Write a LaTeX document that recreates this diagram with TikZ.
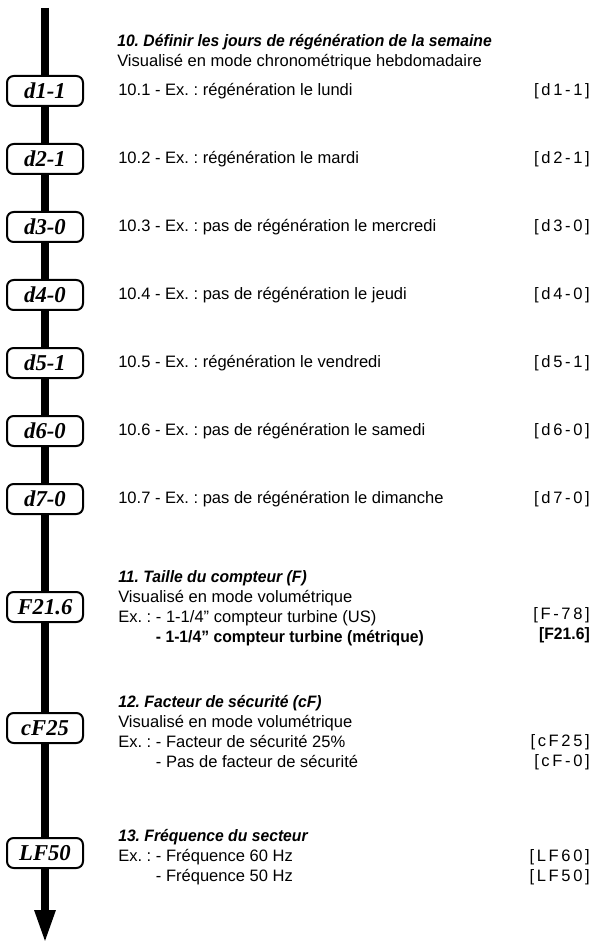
\documentclass[tikz,border=0pt]{standalone}
\usepackage{fontspec}
\setmainfont{Liberation Sans}
\newfontfamily\headfont[FakeStretch=0.95,Ligatures=TeX]{Liberation Sans}
\newfontfamily\boxfont{Liberation Serif}
\newfontfamily\codefont[LetterSpace=16]{Liberation Sans}
\usetikzlibrary{positioning}
\usetikzlibrary{arrows.meta}
\frenchspacing

\newcommand{\sectitle}[1]{{\headfont\bfseries\itshape #1}}
\newcommand{\boldline}[1]{{\headfont\bfseries #1}}

\tikzset{
  menu/.style={draw,line width=1.5pt,rounded corners=5pt,fill=white,
    minimum width=57pt,minimum height=22.5pt,inner sep=0pt,
    font=\boxfont\bfseries\itshape\fontsize{17}{18}\selectfont},
  txt/.style={inner sep=0pt,align=left,anchor=west,
    font=\fontsize{12.4}{15}\selectfont},
  code/.style={inner sep=0pt,align=right,anchor=east,
    font=\codefont\fontsize{12.4}{15}\selectfont},
  spine/.style={line width=5.6pt}
}

\begin{document}
\begin{tikzpicture}[x=0.75pt,y=-0.75pt,node distance=27pt]
\useasboundingbox (0,0) rectangle (594,944);
\coordinate (top) at (45,8);
\coordinate (bot) at (45,943);
\coordinate (R) at (590,0);

% day by day
\node[menu] (d1) at (45,91) {d1-1};
\node[menu,below=of d1] (d2) {d2-1};
\node[menu,below=of d2] (d3) {d3-0};
\node[menu,below=of d3] (d4) {d4-0};
\node[menu,below=of d4] (d5) {d5-1};
\node[menu,below=of d5] (d6) {d6-0};
\node[menu,below=of d6] (d7) {d7-0};
\node[menu] (F) at (45,607) {F21.6};
\node[menu] (cF) at (45,728) {cF25};
\node[menu] (LF) at (45,853) {LF50};

\node[txt] (h10) at (117,52) {\sectitle{10. Définir les jours de régénération de la semaine}\\
  Visualisé en mode chronométrique hebdomadaire};
\node[txt,right=25.5pt of d1] (l1) {10.1 - Ex. : régénération le lundi};
\node[txt,right=25.5pt of d2] (l2) {10.2 - Ex. : régénération le mardi};
\node[txt,right=25.5pt of d3] (l3) {10.3 - Ex. : pas de régénération le mercredi};
\node[txt,right=25.5pt of d4] (l4) {10.4 - Ex. : pas de régénération le jeudi};
\node[txt,right=25.5pt of d5] (l5) {10.5 - Ex. : régénération le vendredi};
\node[txt,right=25.5pt of d6] (l6) {10.6 - Ex. : pas de régénération le samedi};
\node[txt,right=25.5pt of d7] (l7) {10.7 - Ex. : pas de régénération le dimanche};
\node[code] (k1) at (d1 -| R) {[d1-1]};
\node[code] (k2) at (d2 -| R) {[d2-1]};
\node[code] (k3) at (d3 -| R) {[d3-0]};
\node[code] (k4) at (d4 -| R) {[d4-0]};
\node[code] (k5) at (d5 -| R) {[d5-1]};
\node[code] (k6) at (d6 -| R) {[d6-0]};
\node[code] (k7) at (d7 -| R) {[d7-0]};

% meter, safety, mains
\node[txt,right=25.5pt of F,yshift=-1pt] (h11) {\sectitle{11. Taille du compteur (F)}\\
  Visualisé en mode volumétrique\\
  Ex. : - 1-1/4'' compteur turbine (US)\\
  \hphantom{Ex. : }\boldline{- 1-1/4'' compteur turbine (métrique)}};
\node[code] (k11) at (590,625) {{[F-78]}\\\boldline{[F21.6]}};

\node[txt,right=25.5pt of cF,yshift=-3pt] (h12) {\sectitle{12. Facteur de sécurité (cF)}\\
  Visualisé en mode volumétrique\\
  Ex. : - Facteur de sécurité 25\%\\
  \hphantom{Ex. : }- Pas de facteur de sécurité};
\node[code] (k12) at (590,752) {{[cF25]}\\{[cF-0]}};

\node[txt,right=25.5pt of LF,yshift=-3pt] (h13) {\sectitle{13. Fréquence du secteur}\\
  Ex. : - Fréquence 60 Hz\\
  \hphantom{Ex. : }- Fréquence 50 Hz};
\node[code] (k13) at (590,867) {{[LF60]}\\{[LF50]}};

\draw[spine] (top) -- (d1);
\draw[spine] (d1) -- (d2);
\draw[spine] (d2) -- (d3);
\draw[spine] (d3) -- (d4);
\draw[spine] (d4) -- (d5);
\draw[spine] (d5) -- (d6);
\draw[spine] (d6) -- (d7);
\draw[spine] (d7) -- (F);
\draw[spine] (F) -- (cF);
\draw[spine] (cF) -- (LF);
\draw[spine,-{Triangle[length=24.75pt,width=14.5pt]}] (LF) -- (bot);
\end{tikzpicture}
\end{document}
